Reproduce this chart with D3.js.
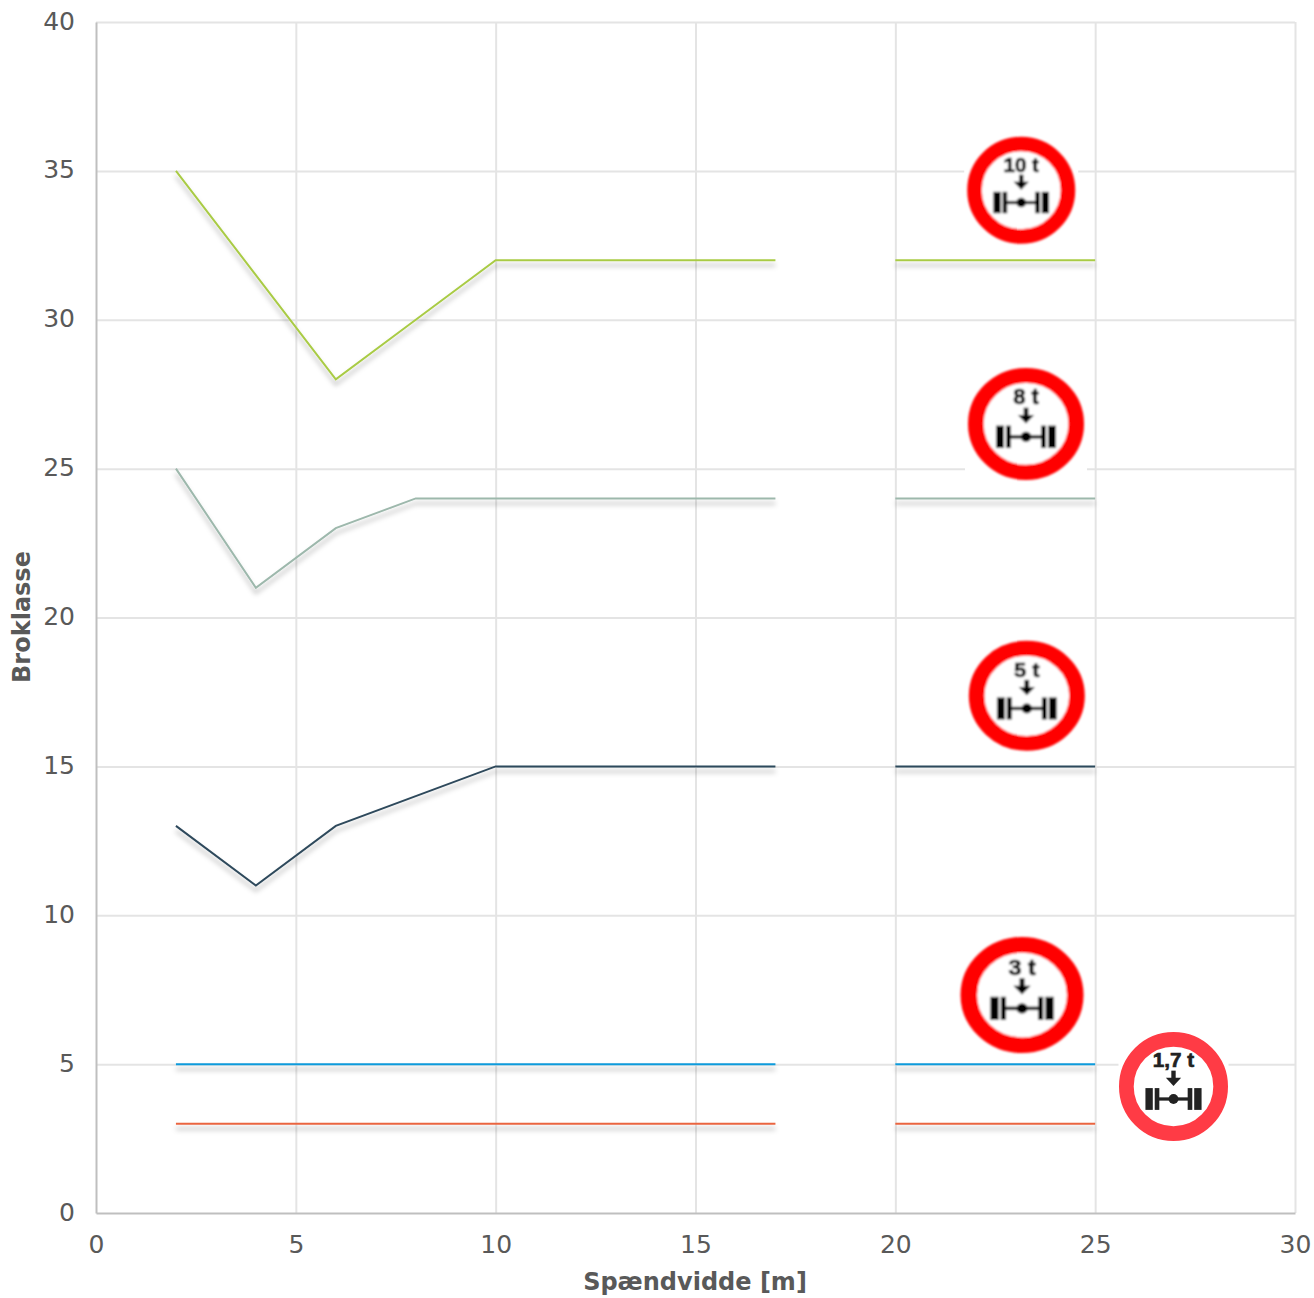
<!DOCTYPE html>
<html>
<head>
<meta charset="utf-8">
<script src="https://cdn.jsdelivr.net/npm/d3@7"></script>
<style>
  html, body { margin: 0; padding: 0; background: #fff; }
  svg { display: block; }
  text { font-family: "DejaVu Sans", sans-serif; }
</style>
</head>
<body>
<svg width="1314" height="1298"></svg>
<script>
// spans in metres, null in the series = gap between 17 and 20
const spans = [2, 4, 6, 8, 10, 15, 17, 18, 20, 25]
const class10t = [35, 31.5, 28, 30, 32, 32, 32, null, 32, 32]
const class8t = [25, 21, 23, 24, 24, 24, 24, null, 24, 24]
const class5t = [13, 11, 13, 14, 15, 15, 15, null, 15, 15]
const class3t = [5, 5, 5, 5, 5, 5, 5, null, 5, 5]
const class17t = [3, 3, 3, 3, 3, 3, 3, null, 3, 3]

const xTicks = [0, 5, 10, 15, 20, 25, 30]
const yTicks = [0, 5, 10, 15, 20, 25, 30, 35, 40]

const signLabels = ["10 t", "8 t", "5 t", "3 t", "1,7 t"]

const svg = d3.select("svg")
const x = d3.scaleLinear().domain([0, 30]).range([96, 1295])
const y = d3.scaleLinear().domain([0, 40]).range([1213, 22])

// drop shadow under the lines
const defs = svg.append("defs")
defs.append("filter").attr("id", "shadow")
  .attr("filterUnits", "userSpaceOnUse")
  .attr("x", 0).attr("y", 0).attr("width", 1314).attr("height", 1298)
  .append("feDropShadow")
  .attr("dx", 0).attr("dy", 5).attr("stdDeviation", 2.6)
  .attr("flood-color", "#000").attr("flood-opacity", 0.3)
defs.append("filter").attr("id", "soft")
  .attr("x", "-10%").attr("y", "-10%").attr("width", "120%").attr("height", "120%")
  .append("feGaussianBlur").attr("stdDeviation", 0.85)

// grid
svg.append("g")
  .attr("transform", "translate(0," + y(0) + ")")
  .call(d3.axisBottom(x).tickValues(xTicks.slice(1)).tickSize(y(40) - y(0)).tickFormat(""))
  .call(g => g.select(".domain").remove())
  .selectAll("line").attr("stroke", "#e4e4e4").attr("stroke-width", 2)
svg.append("g")
  .attr("transform", "translate(" + x(0) + ",0)")
  .call(d3.axisLeft(y).tickValues(yTicks.slice(1)).tickSize(x(0) - x(30)).tickFormat(""))
  .call(g => g.select(".domain").remove())
  .selectAll("line").attr("stroke", "#e4e4e4").attr("stroke-width", 2)

// series
const line = d3.line()
  .defined(d => d[1] !== null)
  .x(d => x(d[0]))
  .y(d => y(d[1]))

const seriesList = [class10t, class8t, class5t, class3t, class17t]
const seriesColors = ["#a9cb45", "#9db8ac", "#2f4a5c", "#0b9bdc", "#ea6540"]

svg.append("g").attr("filter", "url(#shadow)")
  .selectAll("path")
  .data(seriesList)
  .enter().append("path")
  .attr("fill", "none")
  .attr("stroke", (d, i) => seriesColors[i])
  .attr("stroke-width", 2)
  .attr("d", d => line(d.map((v, i) => [spans[i], v])))

// axes on top of the grid
const xAxis = svg.append("g")
  .attr("transform", "translate(0," + y(0) + ")")
  .call(d3.axisBottom(x).tickValues(xTicks).tickSize(0).tickPadding(22))
xAxis.select(".domain").attr("stroke", "#bfbfbf").attr("stroke-width", 2)
const yAxis = svg.append("g")
  .attr("transform", "translate(" + x(0) + ",-1)")
  .call(d3.axisLeft(y).tickValues(yTicks).tickSize(0).tickPadding(21))
yAxis.select(".domain").attr("transform", "translate(0,1)").attr("stroke", "#bfbfbf").attr("stroke-width", 2)
svg.selectAll(".tick text")
  .attr("fill", "#595959")
  .style("font-size", "25px")
  .style("font-family", '"DejaVu Sans", sans-serif')

svg.append("text")
  .attr("x", 695).attr("y", 1290)
  .attr("text-anchor", "middle")
  .attr("fill", "#595959")
  .style("font-size", "24px").style("font-weight", "bold")
  .text("Spændvidde [m]")
svg.append("text")
  .attr("transform", "translate(30,617) rotate(-90)")
  .attr("text-anchor", "middle")
  .attr("fill", "#595959")
  .style("font-size", "24px").style("font-weight", "bold")
  .text("Broklasse")

// traffic signs, centred in chart units, drawn in a unit circle
function drawSign(label, cxVal, cyVal, rx, ry, boxW, boxH, red, blur) {
  const g = svg.append("g").attr("transform", "translate(" + x(cxVal) + "," + y(cyVal) + ")")
  g.append("rect")
    .attr("x", -boxW).attr("y", -boxH).attr("width", boxW * 2).attr("height", boxH * 2)
    .attr("fill", "#fff")
  const wrap = g.append("g")
  if (blur) wrap.attr("filter", "url(#soft)")
  const s = wrap.append("g").attr("transform", "scale(" + rx + "," + ry + ")")
  s.append("circle").attr("r", 0.865).attr("fill", "#fff")
    .attr("stroke", red).attr("stroke-width", 0.27)
  const ink = blur ? "#000" : "#222"
  s.append("text")
    .attr("y", -0.35).attr("text-anchor", "middle")
    .attr("fill", ink)
    .attr("stroke", ink).attr("stroke-width", 0.012)
    .style("font-family", '"Liberation Sans", sans-serif')
    .style("font-size", "0.38px").style("font-weight", "bold")
    .text(label)
  s.append("rect").attr("x", -0.04).attr("y", -0.29).attr("width", 0.08).attr("height", 0.16).attr("fill", ink)
  s.append("path").attr("d", "M-0.14,-0.16L0.14,-0.16L0,-0.01Z").attr("fill", ink)
  s.append("rect").attr("x", -0.33).attr("y", 0.2).attr("width", 0.66).attr("height", 0.06).attr("fill", ink)
  s.append("ellipse").attr("cy", 0.23).attr("rx", 0.09).attr("ry", 0.09).attr("fill", ink)
  const wheels = [[-0.515, 0.135], [-0.345, 0.085], [0.26, 0.085], [0.38, 0.135]]
  wheels.forEach(w => {
    s.append("rect").attr("x", w[0]).attr("y", 0.03).attr("width", w[1]).attr("height", 0.4).attr("fill", ink)
  })
}

drawSign(signLabels[0], 23.15, 34.35, 54, 53.5, 57, 56, "#ff0000", true)
drawSign(signLabels[1], 23.27, 26.5, 58, 56, 61, 59, "#ff0000", true)
drawSign(signLabels[2], 23.29, 17.37, 58, 55, 60, 58, "#ff0000", true)
drawSign(signLabels[3], 23.17, 7.32, 61.5, 58, 64, 60, "#ff0000", true)
drawSign(signLabels[4], 26.96, 4.25, 54.5, 54.5, 55, 55, "#ff3b45", false)
</script>
</body>
</html>
